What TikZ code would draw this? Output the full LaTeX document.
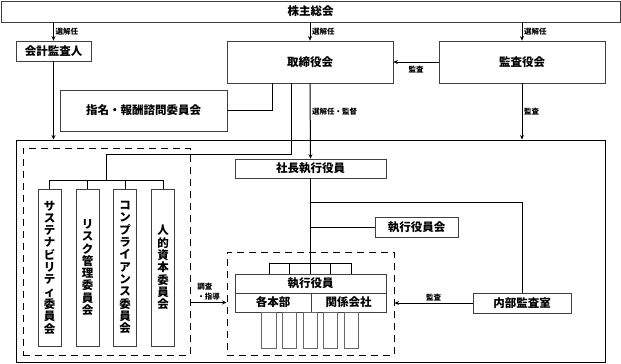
\documentclass[tikz,border=0pt]{standalone}
\usepackage{fontspec}
\setmainfont{Noto Sans CJK JP}
\usetikzlibrary{arrows.meta}

\begin{document}
\begin{tikzpicture}[x=1pt,y=-1pt,>={Stealth[length=4.5pt,width=4pt]},
  box/.style={draw=black!75,line width=0.7pt,inner sep=0pt,font=\fontsize{11.5}{13}\selectfont\bfseries},
  tatebox/.style={box,minimum width=23,minimum height=157,align=center,font=\fontsize{11.5}{12.3}\selectfont\bfseries},
  unitbox/.style={draw=black!60,line width=0.6pt,minimum width=14.5,minimum height=36,inner sep=0pt},
  area/.style={draw,line width=1pt,dash pattern=on 7pt off 5pt,inner sep=0pt},
  lab/.style={font=\fontsize{7.5}{10}\selectfont\bfseries,inner sep=1.5pt},
  conn/.style={line width=1pt}]
  \useasboundingbox (0,0) rectangle (621,364);

  % board level
  \node[box,minimum width=619,minimum height=21] (soukai) at (310.5,11.5) {株主総会};
  \node[box,minimum width=75,minimum height=20] (kaikei) at (53.5,51) {会計監査人};
  \node[box,minimum width=166,minimum height=42] (torishimari) at (310,62) {取締役会};
  \node[box,minimum width=166,minimum height=42] (kansayaku) at (522,62) {監査役会};
  \node[box,minimum width=167,minimum height=41] (shimei) at (143.5,110.5) {指名・報酬諮問委員会};

  % execution level
  \node[draw,line width=1pt,inner sep=0pt,minimum width=589,minimum height=222] (frame) at (310.5,251) {};
  \node[area,minimum width=167,minimum height=207] (iinkaiarea) at (106.5,251.5) {};
  \node[area,minimum width=167,minimum height=103] (shikkouarea) at (310.5,303.5) {};

  \node[tatebox] (iin1) at (49.5,267.5) {サ\\ス\\テ\\ナ\\ビ\\リ\\テ\\ィ\\委\\員\\会};
  \node[tatebox] (iin2) at (87.5,267.5) {リ\\ス\\ク\\管\\理\\委\\員\\会};
  \node[tatebox] (iin3) at (125,267.5) {コ\\ン\\プ\\ラ\\イ\\ア\\ン\\ス\\委\\員\\会};
  \node[tatebox] (iin4) at (163,267.5) {人\\的\\資\\本\\委\\員\\会};

  \node[box,minimum width=151,minimum height=19] (shacho) at (310.5,168.5) {社長執行役員};
  \node[box,minimum width=83,minimum height=20] (kaigi) at (416.5,227) {執行役員会};
  \node[box,minimum width=98,minimum height=20] (naibu) at (522,303) {内部監査室};
  \node[box,minimum width=151,minimum height=19] (yakuin) at (310.5,283.5) {執行役員};
  \node[box,minimum width=76,minimum height=19] (honbu) at (273,302.5) {各本部};
  \node[box,minimum width=75,minimum height=19] (kanren) at (348.5,302.5) {関係会社};
  \foreach \x [count=\i] in {269,289.5,310.5,330.5,351.5}
    \node[unitbox] (bumon\i) at (\x,330) {};

  \coordinate (iinkaitop) at (106,154);
  \coordinate (iinkaibus) at (106,180);
  \coordinate (yakuinbus) at (310.5,263);
  \coordinate (naibubranch) at (310.5,202);

  % connectors
  \draw[conn,->] (soukai.south -| kaikei) -- node[lab,right]{選解任} (kaikei.north);
  \draw[conn,->] (soukai.south -| torishimari) -- node[lab,right]{選解任} (torishimari.north);
  \draw[conn,->] (soukai.south -| kansayaku) -- node[lab,right]{選解任} (kansayaku.north);
  \draw[conn,->] (kansayaku.west) -- node[lab,below=2pt]{監査} (torishimari.east);
  \draw[conn] ([xshift=-38pt]torishimari.south) |- (shimei.east);
  \draw[conn,->] (kaikei.south) -- (kaikei.south |- frame.north);
  \draw[conn,->] (kansayaku.south) -- node[lab,right]{監査} (kansayaku.south |- frame.north);
  \draw[conn,->] (torishimari.south) -- node[lab,right,pos=0.38]{選解任・監督} (shacho.north);

  \draw[conn] ([xshift=-19pt]torishimari.south) |- (iinkaitop) -- (iinkaibus);
  \draw[conn] (iin1.north |- iinkaibus) -- (iin4.north |- iinkaibus);
  \foreach \i in {1,...,4}
    \draw[conn] (iin\i.north |- iinkaibus) -- (iin\i.north);

  \draw[conn] (shacho.south) -- (yakuinbus);
  \draw[conn] (naibubranch) -| (naibu.north);
  \draw[conn] (kaigi.west -| shacho.south) -- (kaigi.west);
  \draw[conn] (bumon1 |- yakuinbus) -- (bumon5 |- yakuinbus);
  \foreach \i in {1,...,5}
    \draw[conn] (bumon\i |- yakuinbus) -- (bumon\i |- yakuin.north);

  \draw[conn,->] (naibu.west) -- node[lab,above]{監査} (naibu.west -| shikkouarea.east);
  \draw[conn,->] (iinkaiarea.east |- honbu) -- node[lab,above,align=left]{調査\\・指導} (shikkouarea.west |- honbu);
\end{tikzpicture}
\end{document}
